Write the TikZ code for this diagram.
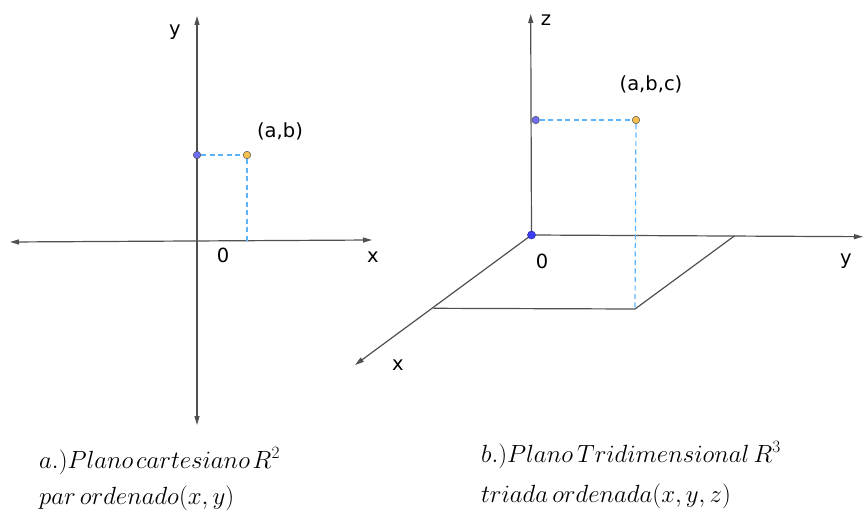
\documentclass[tikz,border=0pt]{standalone}
\usepackage{fontspec}
\setsansfont{DejaVu Sans}
\usetikzlibrary{arrows.meta}
\definecolor{axisgray}{RGB}{80,80,80}
\definecolor{ptblue}{RGB}{110,110,245}
\definecolor{ptblueD}{RGB}{60,60,240}
\definecolor{ptorange}{RGB}{245,192,78}
\definecolor{dashblue}{RGB}{90,180,255}
\tikzset{
  axisline/.style={draw=axisgray, line width=1.2pt},
  tipend/.style={-{Triangle[length=9pt,width=5pt]}},
  tipboth/.style={{Triangle[length=9pt,width=5pt]}-{Triangle[length=9pt,width=5pt]}},
  guide/.style={draw=dashblue, line width=1.2pt, dash pattern=on 5pt off 3.5pt},
  ptb/.style={circle, fill=ptblue, draw=axisgray, line width=0.5pt, inner sep=0pt, minimum size=7.5pt},
  ptbd/.style={circle, fill=ptblueD, draw=ptblueD!70!black, line width=0.5pt, inner sep=0pt, minimum size=8pt},
  pto/.style={circle, fill=ptorange, draw=axisgray, line width=0.5pt, inner sep=0pt, minimum size=7.5pt},
  lbl/.style={font=\sffamily\fontsize{19.5}{19.5}\selectfont, anchor=base, inner sep=0pt},
  captext/.style={font=\fontsize{23}{23}\selectfont, anchor=base west, inner sep=0pt}
}
\begin{document}
\begin{tikzpicture}[x=1pt,y=-1pt]
\useasboundingbox (0,0) rectangle (863,519);
% ---------- left: plane ----------
\coordinate (xl) at (10,242);
\coordinate (xr) at (372,240);
\coordinate (yt) at (197,16);
\coordinate (yb) at (197,425);
\coordinate (foot) at (247,240.5);
\path[axisline, tipboth] (xl) -- (xr);
\path[axisline, tipboth] (yb) -- (yt);
\node[ptb] (pb) at (197,155) {};
\node[pto] (pab) at (247,155) {};
\path[guide] (pb) -- (pab);
\path[guide] (pab) -- (foot);
\node[lbl] (ly) at (175,36) {y};
\node[lbl] (l0) at (223,262) {0};
\node[lbl] (lx) at (373,262) {x};
\node[lbl] (lab) at (280,138) {(a,b)};
% ---------- right: space ----------
\coordinate (o) at (531.5,235);
\coordinate (zt) at (530.7,14);
\coordinate (ye) at (863,236.7);
\coordinate (xe) at (355,365);
\coordinate (q1) at (433.3,308.3);
\coordinate (q2) at (635,309);
\coordinate (q3) at (734.3,236);
\path[axisline, tipend] (o) -- (zt);
\path[axisline, tipend] (o) -- (ye);
\path[axisline, tipend] (o) -- (xe);
\path[axisline] (q1) -- (q2) -- (q3);
\node[ptb] (pz) at (535.7,120) {};
\node[pto] (pabc) at (636,120) {};
\path[guide] (pz) -- (pabc);
\path[guide] (pabc) -- (q2);
\node[ptbd] (po) at (o) {};
\node[lbl] (rz) at (546,26) {z};
\node[lbl] (rabc) at (651,91) {(a,b,c)};
\node[lbl] (r0) at (542,268) {0};
\node[lbl] (ry) at (846,264) {y};
\node[lbl] (rx) at (398,370) {x};
% ---------- captions ----------
\node[captext] (ca1) at (39,468) {$a.)Plano\mkern2mu cartesiano\mkern2mu R^2$};
\node[captext] (ca2) at (39,504) {$par\,ordenado(x,y)$};
\node[captext, font=\fontsize{23.3}{23.3}\selectfont] (cb1) at (481,462) {$b.)Plano\,Tridimensional\,R^3$};
\node[captext, font=\fontsize{23.3}{23.3}\selectfont] (cb2) at (481,502) {$triada\,ordenada(x,y,z)$};
\end{tikzpicture}
\end{document}
